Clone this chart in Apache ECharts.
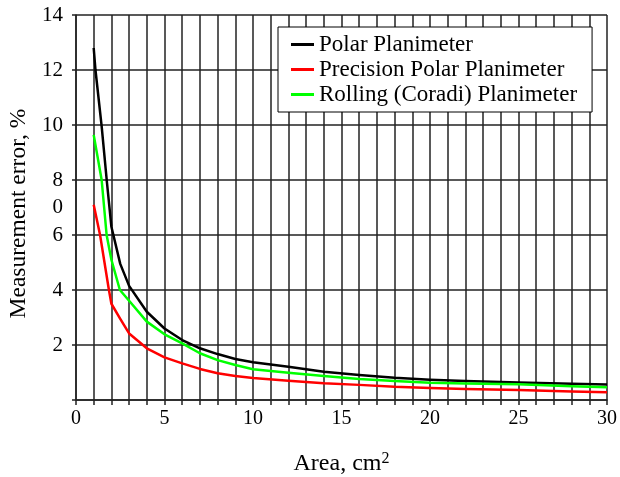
<!DOCTYPE html>
<html>
<head>
<meta charset="utf-8">
<script src="https://cdn.jsdelivr.net/npm/echarts@6/dist/echarts.min.js"></script>
<style>
  html, body { margin: 0; padding: 0; background: #fff; }
  #chart { width: 620px; height: 477px; }
</style>
</head>
<body>
<div id="chart"></div>
<script>
  // values
  const polarX = [1, 1.1, 1.45, 1.75, 2, 2.5, 3, 4, 5, 6, 7, 8, 9, 10, 12, 14, 16, 18, 20, 22, 25, 28, 30];
  const polarY = [12.8, 12.0, 9.95, 7.9, 6.3, 4.95, 4.15, 3.21, 2.6, 2.18, 1.88, 1.67, 1.49, 1.37, 1.21, 1.03, 0.91, 0.81, 0.74, 0.69, 0.64, 0.59, 0.56];

  const precisionX = [1, 1.36, 1.86, 2, 2.5, 3, 4, 5, 6, 7, 8, 9, 10, 12, 14, 16, 18, 20, 22, 25, 28, 30];
  const precisionY = [7.1, 6.0, 4.0, 3.5, 2.95, 2.42, 1.88, 1.55, 1.33, 1.13, 0.97, 0.87, 0.8, 0.7, 0.61, 0.55, 0.48, 0.44, 0.4, 0.36, 0.31, 0.28];

  const rollingX = [1, 1.45, 1.73, 2, 2.48, 3, 4, 5, 6, 7, 8, 9, 10, 12, 14, 16, 18, 20, 22, 25, 28, 30];
  const rollingY = [9.64, 8.0, 6.0, 5.1, 4.0, 3.61, 2.85, 2.39, 2.06, 1.7, 1.45, 1.27, 1.12, 0.99, 0.87, 0.76, 0.69, 0.63, 0.6, 0.57, 0.5, 0.46];

  const seriesNames = ['Polar Planimeter', 'Precision Polar Planimeter', 'Rolling (Coradi) Planimeter'];
  const seriesColors = ['#000000', '#ff0000', '#00ff00'];

  // y tick labels as printed (the odd "0" sits at 7)
  const yTickValues = [2, 4, 6, 7, 8, 10, 12, 14];
  const yTickLabels = ['2', '4', '6', '0', '8', '10', '12', '14'];
  const xLabelValues = [0, 5, 10, 15, 20, 25, 30];

  function yLabel(v) {
    const i = yTickValues.indexOf(v);
    return i < 0 ? '' : yTickLabels[i];
  }
  function pairs(xs, ys) {
    return xs.map((x, i) => [x, ys[i]]);
  }
  function makeLine(idx, xs, ys) {
    return {
      name: seriesNames[idx],
      type: 'line',
      symbol: 'none',
      lineStyle: { color: seriesColors[idx], width: 2.5, join: 'round' },
      itemStyle: { color: seriesColors[idx] },
      data: pairs(xs, ys)
    };
  }

  const font = 'Liberation Serif';
  const gridColor = '#222';

  const myChart = echarts.init(document.getElementById('chart'));
  const option = {
    animation: false,
    backgroundColor: '#fff',
    grid: { left: 76, right: 13, top: 15, bottom: 77, outerBoundsMode: 'none' },
    legend: {
      orient: 'vertical',
      left: 278,
      top: 27,
      padding: [6, 15, 6, 13],
      itemGap: 2,
      icon: 'rect',
      itemWidth: 23,
      itemHeight: 3,
      borderColor: '#000',
      borderWidth: 1,
      backgroundColor: '#fff',
      textStyle: { fontFamily: font, fontSize: 23, color: '#000' },
      data: seriesNames
    },
    xAxis: {
      type: 'value',
      min: 0,
      max: 30,
      interval: 1,
      name: '{a|Area, cm}{s|2}',
      nameLocation: 'middle',
      nameGap: 51,
      nameTextStyle: {
        rich: {
          a: { fontFamily: font, fontSize: 24, color: '#000' },
          s: { fontFamily: font, fontSize: 16, color: '#000', verticalAlign: 'top', padding: [0, 0, 9, 0] }
        }
      },
      axisLine: { lineStyle: { color: gridColor, width: 1.5 } },
      axisTick: { show: true, length: 5, lineStyle: { color: gridColor, width: 1.5 } },
      axisLabel: {
        fontFamily: font, fontSize: 20, color: '#000', margin: 9,
        formatter: v => xLabelValues.indexOf(v) >= 0 ? String(v) : ''
      },
      splitLine: { show: true, lineStyle: { color: gridColor, width: 1.5 } }
    },
    yAxis: [
      {
        type: 'value',
        min: 0,
        max: 14,
        interval: 2,
        name: 'Measurement error, %',
        nameLocation: 'middle',
        nameGap: 44,
        nameTextStyle: { fontFamily: font, fontSize: 23.5, color: '#000', padding: [0, 12, 0, 0] },
        axisLine: { show: true, lineStyle: { color: gridColor, width: 1.5 } },
        axisTick: { show: true, length: 4, lineStyle: { color: gridColor, width: 1.5 } },
        axisLabel: { fontFamily: font, fontSize: 21, color: '#000', margin: 13, formatter: yLabel },
        splitLine: { show: true, lineStyle: { color: gridColor, width: 1.5 } }
      },
      {
        type: 'value',
        min: 0,
        max: 14,
        interval: 1,
        position: 'left',
        axisLine: { show: false },
        axisTick: { show: false },
        splitLine: { show: false },
        axisLabel: {
          fontFamily: font, fontSize: 21, color: '#000', margin: 13,
          formatter: v => (v % 2 === 1 ? yLabel(v) : '')
        }
      }
    ],
    series: [
      makeLine(0, polarX, polarY),
      makeLine(1, precisionX, precisionY),
      makeLine(2, rollingX, rollingY)
    ]
  };
  myChart.setOption(option);
</script>
</body>
</html>
